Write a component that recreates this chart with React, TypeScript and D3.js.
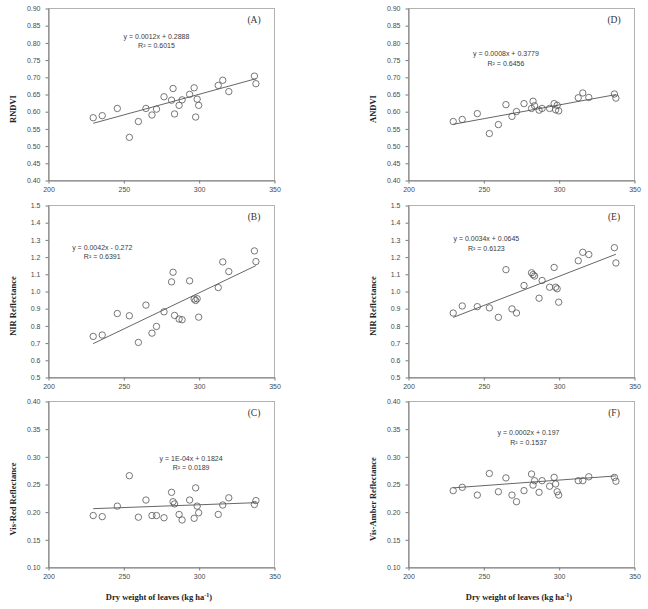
import { useEffect, useRef } from "react";
import type { JSX } from "react";
import * as d3 from "d3";

// dry weight of leaves, shared by all six panels (kg/ha)
const dryWeight = [
  230, 236, 246, 254, 260, 265, 269, 272, 277, 282, 283, 284, 287, 289, 294,
  297, 298, 299, 300, 313, 316, 320, 337, 338,
];

const rndvi = [
  0.581, 0.587, 0.608, 0.524, 0.57, 0.608, 0.589, 0.606, 0.642, 0.632, 0.666,
  0.592, 0.617, 0.633, 0.649, 0.668, 0.583, 0.635, 0.617, 0.675, 0.69, 0.657,
  0.702, 0.68,
];
const nirB = [
  0.736, 0.744, 0.869, 0.856, 0.701, 0.918, 0.755, 0.794, 0.879, 1.053, 1.109,
  0.858, 0.837, 0.833, 1.059, 0.953, 0.945, 0.955, 0.848, 1.02, 1.169, 1.113,
  1.233, 1.171,
];
const visRed = [
  0.193, 0.191, 0.21, 0.265, 0.19, 0.221, 0.193, 0.193, 0.189, 0.235, 0.218,
  0.214, 0.195, 0.185, 0.221, 0.188, 0.243, 0.21, 0.198, 0.195, 0.212, 0.225,
  0.213, 0.22,
];
const andvi = [
  0.57, 0.576, 0.593, 0.535, 0.561, 0.619, 0.585, 0.599, 0.622, 0.608, 0.629,
  0.616, 0.603, 0.608, 0.608, 0.622, 0.604, 0.617, 0.601, 0.639, 0.653, 0.64,
  0.65, 0.638,
];
const nirE = [
  0.872, 0.913, 0.909, 0.902, 0.847, 1.124, 0.896, 0.872, 1.032, 1.106, 1.095,
  1.087, 0.958, 1.061, 1.022, 1.137, 1.022, 1.013, 0.935, 1.176, 1.225, 1.212,
  1.252, 1.163,
];
const visAmber = [
  0.238, 0.244, 0.23, 0.269, 0.236, 0.261, 0.23, 0.218, 0.238, 0.268, 0.248,
  0.256, 0.235, 0.256, 0.246, 0.262, 0.25, 0.236, 0.23, 0.256, 0.256, 0.263,
  0.262, 0.255,
];

const xTicks = [200, 250, 300, 350];
const ndviTicks = d3.range(0.4, 0.9001, 0.05);
const nirTicks = d3.range(0.5, 1.5001, 0.1);
const visTicks = d3.range(0.1, 0.4001, 0.05);

type PanelDef = {
  tag: string;
  ylabel: string;
  values: number[];
  yDomain: [number, number];
  yTicks: number[];
  yFmt: string;
  slope: number;
  intercept: number;
  eqText: string;
  r2Text: string;
  col: number;
  row: number;
  eqPos: [number, number];
  xTitle: boolean;
};

const panels: PanelDef[] = [
  { tag: "(A)", ylabel: "RNDVI", values: rndvi, yDomain: [0.4, 0.9], yTicks: ndviTicks, yFmt: ".2f",
    slope: 0.0012, intercept: 0.2888, eqText: "y = 0.0012x + 0.2888", r2Text: "R² = 0.6015",
    col: 0, row: 0, eqPos: [272, 0.81], xTitle: false },
  { tag: "(B)", ylabel: "NIR Reflectance", values: nirB, yDomain: [0.5, 1.5], yTicks: nirTicks, yFmt: ".1f",
    slope: 0.0042, intercept: -0.272, eqText: "y = 0.0042x - 0.272", r2Text: "R² = 0.6391",
    col: 0, row: 1, eqPos: [236, 1.24], xTitle: false },
  { tag: "(C)", ylabel: "Vis-Red Reflectance", values: visRed, yDomain: [0.1, 0.4], yTicks: visTicks, yFmt: ".2f",
    slope: 0.0001, intercept: 0.1824, eqText: "y = 1E-04x + 0.1824", r2Text: "R² = 0.0189",
    col: 0, row: 2, eqPos: [295, 0.292], xTitle: true },
  { tag: "(D)", ylabel: "ANDVI", values: andvi, yDomain: [0.4, 0.9], yTicks: ndviTicks, yFmt: ".2f",
    slope: 0.0008, intercept: 0.3779, eqText: "y = 0.0008x + 0.3779", r2Text: "R² = 0.6456",
    col: 1, row: 0, eqPos: [265, 0.76], xTitle: false },
  { tag: "(E)", ylabel: "NIR Reflectance", values: nirE, yDomain: [0.5, 1.5], yTicks: nirTicks, yFmt: ".1f",
    slope: 0.0034, intercept: 0.0645, eqText: "y = 0.0034x + 0.0645", r2Text: "R² = 0.6123",
    col: 1, row: 1, eqPos: [252, 1.29], xTitle: false },
  { tag: "(F)", ylabel: "Vis-Amber Reflectance", values: visAmber, yDomain: [0.1, 0.4], yTicks: visTicks, yFmt: ".2f",
    slope: 0.0002, intercept: 0.197, eqText: "y = 0.0002x + 0.197", r2Text: "R² = 0.1537",
    col: 1, row: 2, eqPos: [280, 0.338], xTitle: true },
];

const colLeft = [48, 408];
const plotW = 226;
const rowTop = [8, 205, 401];
const plotH = [172, 172, 166];

const tickFont = "'Liberation Sans', Arial, sans-serif";
const serif = "'Liberation Serif', 'Times New Roman', serif";

export default function App(): JSX.Element {
  const svgRef = useRef<SVGSVGElement>(null);

  useEffect(() => {
    const svgEl = svgRef.current;
    if (!svgEl) return;
    const svg = d3.select(svgEl);
    svg.selectAll("*").remove();

    panels.forEach((p) => {
      const left = colLeft[p.col];
      const top = rowTop[p.row];
      const h = plotH[p.row];
      const g = svg.append("g").attr("transform", `translate(${left},${top})`);

      const x = d3.scaleLinear().domain([200, 350]).range([0, plotW]);
      const y = d3.scaleLinear().domain(p.yDomain).range([h, 0]);

      // frame
      g.append("rect")
        .attr("x", 0.5)
        .attr("y", 0.5)
        .attr("width", plotW)
        .attr("height", h)
        .attr("fill", "none")
        .attr("stroke", "#a0a0a0")
        .attr("stroke-width", 0.8);

      const xAxis = g
        .append("g")
        .attr("transform", `translate(0.5,${h + 0.5})`)
        .call(d3.axisBottom(x).tickValues(xTicks).tickSizeInner(3).tickSizeOuter(0).tickPadding(4));
      const yAxis = g
        .append("g")
        .attr("transform", "translate(0.5,0.5)")
        .call(
          d3
            .axisLeft(y)
            .tickValues(p.yTicks)
            .tickFormat(d3.format(p.yFmt))
            .tickSizeInner(3)
            .tickSizeOuter(0)
            .tickPadding(5)
        );
      [xAxis, yAxis].forEach((a) => {
        a.select(".domain").attr("stroke", "#7a7a7a").attr("stroke-width", 1);
        a.selectAll(".tick line").attr("stroke", "#7a7a7a");
        a.selectAll("text")
          .attr("fill", "#4a4a4a")
          .style("font-family", tickFont)
          .style("font-size", "7px");
      });

      // regression line over the observed range
      const ext = d3.extent(dryWeight) as [number, number];
      g.append("line")
        .attr("x1", x(ext[0]))
        .attr("y1", y(p.slope * ext[0] + p.intercept))
        .attr("x2", x(ext[1]))
        .attr("y2", y(p.slope * ext[1] + p.intercept))
        .attr("stroke", "#555")
        .attr("stroke-width", 0.9);

      g.selectAll("circle.pt")
        .data(p.values)
        .join("circle")
        .attr("class", "pt")
        .attr("cx", (_, i) => x(dryWeight[i]))
        .attr("cy", (d) => y(d))
        .attr("r", 3.2)
        .attr("fill", "none")
        .attr("stroke", "#555")
        .attr("stroke-width", 0.8);

      const eq = g
        .append("text")
        .attr("x", x(p.eqPos[0]))
        .attr("y", y(p.eqPos[1]))
        .attr("text-anchor", "middle")
        .attr("fill", "#3a3a3a")
        .style("font-family", tickFont)
        .style("font-size", "7px");
      eq.append("tspan").text(p.eqText);
      eq.append("tspan").attr("x", x(p.eqPos[0])).attr("dy", 9.5).text(p.r2Text);

      g.append("text")
        .attr("x", plotW - 20)
        .attr("y", 15)
        .attr("text-anchor", "middle")
        .attr("fill", "#333")
        .style("font-family", serif)
        .style("font-size", "9.5px")
        .text(p.tag);

      g.append("text")
        .attr("transform", `translate(${-32},${h / 2 + 15}) rotate(-90)`)
        .attr("text-anchor", "middle")
        .attr("fill", "#222")
        .style("font-family", serif)
        .style("font-weight", "bold")
        .style("font-size", "8.5px")
        .text(p.ylabel);

      if (p.xTitle) {
        const t = g
          .append("text")
          .attr("x", plotW / 2 - 2)
          .attr("y", h + 33)
          .attr("text-anchor", "middle")
          .attr("fill", "#222")
          .style("font-family", serif)
          .style("font-weight", "bold")
          .style("font-size", "8.5px");
        t.append("tspan").text("Dry weight of leaves (kg ha");
        t.append("tspan").attr("dy", -3).style("font-size", "6px").text("-1");
        t.append("tspan").attr("dy", 3).text(")");
      }
    });
  }, []);

  return (
    <svg
      ref={svgRef}
      width={648}
      height={609}
      style={{ position: "absolute", left: 0, top: 0, background: "#fff", display: "block" }}
    />
  );
}
